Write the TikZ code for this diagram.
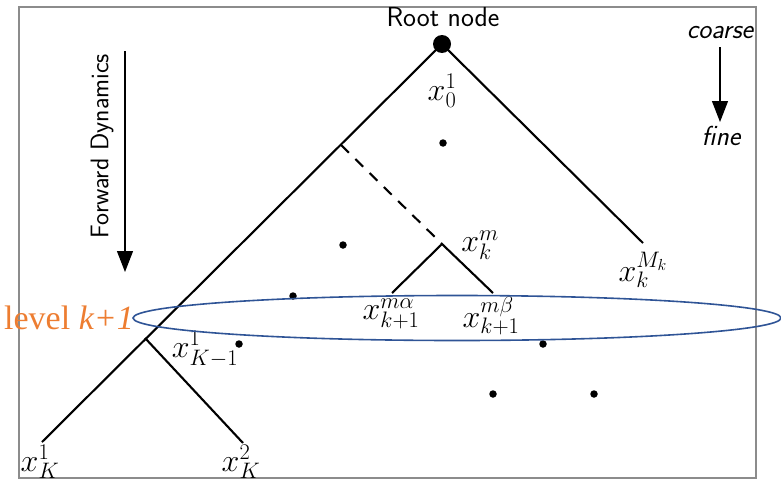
\documentclass[tikz,border=0pt]{standalone}
\usepackage{fix-cm}
\usepackage{fontspec}
\newfontfamily\lvlfont{Liberation Serif}
\usetikzlibrary{arrows.meta,shapes.geometric}
\definecolor{framegray}{RGB}{140,140,140}
\definecolor{ellblue}{RGB}{47,84,150}
\definecolor{lvlorange}{RGB}{237,125,49}
\tikzset{
  branch/.style={line width=2.1pt, black},
  dashbranch/.style={line width=2.1pt, black, dash pattern=on 11pt off 9pt},
  dotnode/.style={circle, fill=black, inner sep=0pt, minimum size=7.5pt},
  rootdot/.style={circle, fill=black, inner sep=0pt, minimum size=18pt},
  lab/.style={inner sep=0pt, font=\fontsize{32}{36}\selectfont},
  sflab/.style={inner sep=0pt, font=\fontsize{27.5}{32}\selectfont\sffamily},
  sfit/.style={inner sep=0pt, font=\fontsize{27.5}{32}\selectfont\sffamily\itshape},
  dirarrow/.style={line width=1.2pt, -{Triangle[length=21pt,width=16pt]}},
}
\begin{document}
\begin{tikzpicture}[x=1pt,y=-1pt]
\useasboundingbox (0,0) rectangle (781,479);
\draw[framegray, line width=1.3pt] (19,7) rectangle (756,478);

% tree points
\node[rootdot] (root) at (442,44) {};
\coordinate (leftend) at (42,442);
\coordinate (rightend) at (643,243);
\coordinate (dashstart) at (341,145);
\coordinate (km) at (442,244);
\coordinate (ka) at (392,293);
\coordinate (kb) at (493,293);
\coordinate (K1) at (145,338);
\coordinate (K2) at (243,443);

\draw[branch] (root.center) -- (leftend);
\draw[branch] (root.center) -- (rightend);
\draw[dashbranch] (dashstart) -- (km);
\draw[branch] (ka) -- (km) -- (kb);
\draw[branch] (K1) -- (K2);

% dots
\node[dotnode] (d1) at (443,143) {};
\node[dotnode] (d2) at (343,245) {};
\node[dotnode] (d3) at (293,296) {};
\node[dotnode] (d4) at (239,344) {};
\node[dotnode] (d5) at (543,344) {};
\node[dotnode] (d6) at (493,394) {};
\node[dotnode] (d7) at (594,394) {};

% labels
\node[sflab] (rootlab) at (443,17) {Root node};
\node[lab] (l0) at (442,91) {$x_0^1$};
\node[lab] (lkm) at (480,245) {$x_k^m$};
\node[lab] (lkM) at (643,270) {$x_k^{M_k}$};
\node[lab] (la) at (391,314) {$x_{k+1}^{m\alpha}$};
\node[lab] (lb) at (491,316) {$x_{k+1}^{m\beta}$};
\node[lab] (lK1) at (205,349) {$x_{K-1}^1$};
\node[lab] (lK) at (40,462) {$x_K^1$};
\node[lab] (lK2) at (241,462) {$x_K^2$};

% coarse/fine
\node[sfit] (coarse) at (720,33) {coarse};
\node[sfit] (fine) at (721,136) {fine};
\coordinate (cs) at (720,47);
\coordinate (ce) at (720,122);
\draw[dirarrow] (cs) -- (ce);

% forward dynamics
\node[sflab, rotate=90, font=\fontsize{25.5}{30}\selectfont\sffamily] (fwd) at (102,146) {Forward Dynamics};
\coordinate (fa) at (125,51);
\coordinate (fb) at (125,272);
\draw[dirarrow] (fa) -- (fb);

% level ellipse
\node[draw=ellblue, line width=1.6pt, ellipse, inner sep=0pt, minimum width=648pt, minimum height=45pt] (lvl) at (457,318) {};
\node[inner sep=0pt, anchor=west, text=lvlorange, font=\fontsize{34}{38}\selectfont\lvlfont] (lvltxt) at (4,318) {level \textit{k+1}};
\end{tikzpicture}
\end{document}
